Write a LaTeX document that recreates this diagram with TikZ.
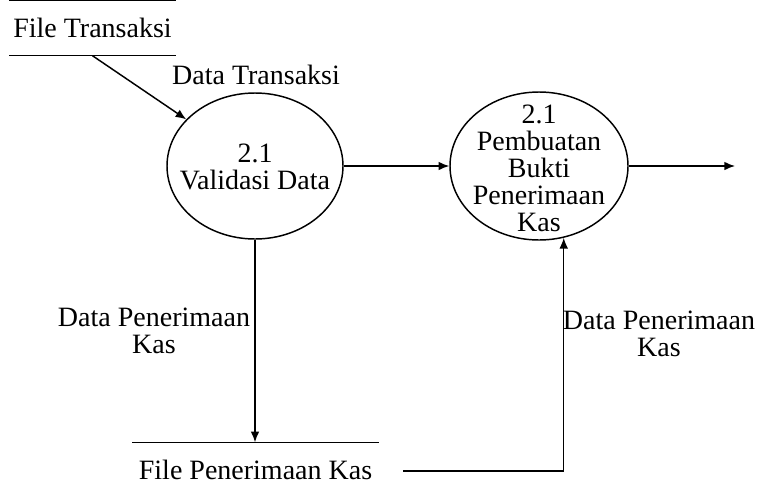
\documentclass[tikz,border=0pt]{standalone}
\usepackage{fontspec}
\setmainfont{Liberation Serif}
\usetikzlibrary{shapes.geometric, arrows.meta}

\begin{document}
\begin{tikzpicture}[x=0.75pt, y=-0.75pt, >={Latex[length=8pt,width=6.5pt]}, line width=1.1pt]
	\tikzstyle{every node} = [font=\fontsize{21}{20.3}\selectfont, inner sep=0pt]
	\tikzstyle{proc} = [draw, ellipse]
	\tikzstyle{store} = [minimum height=40.5pt]
	\useasboundingbox (0,0) rectangle (759,489);
	\node [store, minimum width=123.75pt] (fileTrx) at (92.5,28) {File Transaksi};
	\node [store, minimum width=183.75pt] (kasFile) at (255.5,470) {File Penerimaan Kas};
	\node [proc, minimum width=132pt, minimum height=109.5pt] (validasi) at (255,166) {};
	\node [proc, minimum width=133.5pt, minimum height=111pt] (pembuatan) at (539,166) {};
	\node [align=center] (validasiTxt) at (255,167) {2.1\\Validasi Data};
	\node [align=center] (pembuatanTxt) at (539,168) {2.1\\Pembuatan\\Bukti\\Penerimaan\\Kas};
	\node (lblTrx) at (256,75) {Data Transaksi};
	\node [align=center] (lblKasKiri) at (154,331) {Data Penerimaan\\Kas};
	\node [align=center] (lblKasKanan) at (659,334) {Data Penerimaan\\Kas};
	\coordinate (keluar) at (735,166);
	\coordinate (kasBelok) at (403,471);
	\draw (fileTrx.north west)--(fileTrx.north east);
	\draw (fileTrx.south west)--(fileTrx.south east);
	\draw (kasFile.north west)--(kasFile.north east);
	\draw [->] (fileTrx.south)--(validasi);
	\draw [->] (validasi)--(pembuatan);
	\draw [->] (pembuatan)--(keluar);
	\draw [->] (validasi.south)--(validasi.south |- kasFile.north);
	\draw [->] (kasBelok)-|(pembuatan.-71);
\end{tikzpicture}
\end{document}
